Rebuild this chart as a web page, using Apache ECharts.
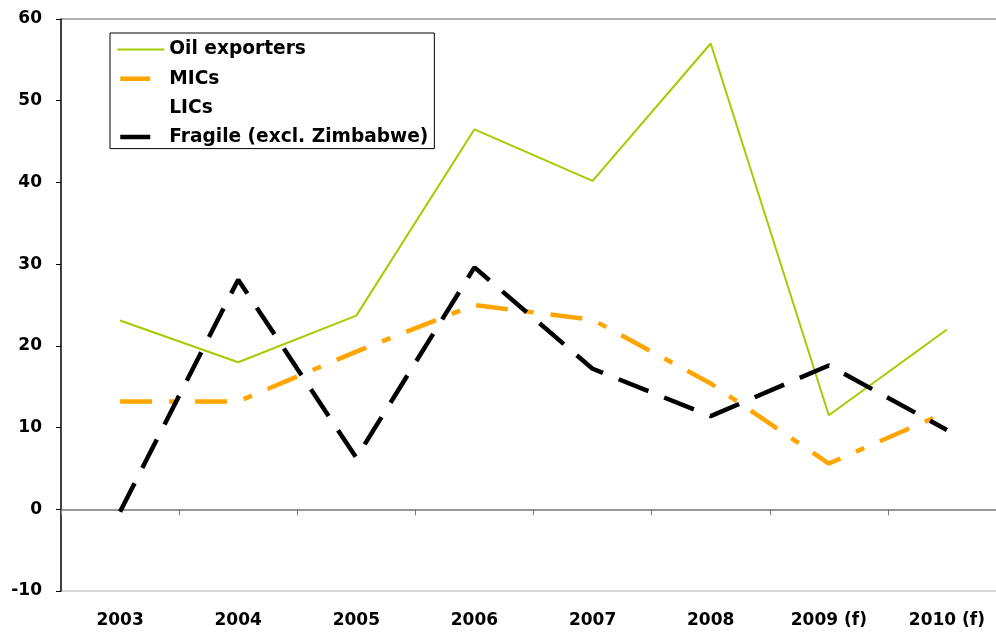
<!DOCTYPE html>
<html>
<head>
<meta charset="utf-8">
<script src="https://cdn.jsdelivr.net/npm/echarts@6/dist/echarts.min.js"></script>
<style>
  html, body { margin: 0; padding: 0; background: #fff; }
  #main { width: 996px; height: 637px; }
</style>
</head>
<body>
<div id="main"></div>
<script>
// categories and series values
var years = ['2003', '2004', '2005', '2006', '2007', '2008', '2009 (f)', '2010 (f)'];
var oilExporters = [23.1, 18.0, 23.7, 46.5, 40.2, 57.0, 11.5, 22.0];
var mics = [13.2, 13.2, 19.3, 25.0, 23.2, 15.4, 5.6, 11.9];
var lics = [];
var fragile = [-0.3, 28.1, 6.3, 29.6, 17.2, 11.4, 17.6, 9.7];

var font = 'DejaVu Sans';
var chart = echarts.init(document.getElementById('main'));

var option = {
    animation: false,
    backgroundColor: '#fff',
    grid: {
        left: 61,
        top: 19,
        bottom: 46,
        width: 945,   // plot runs past the right edge of the picture
        outerBoundsMode: 'none'
    },
    legend: {
        orient: 'vertical',
        left: 110,
        top: 33,
        padding: [7, 6, 2, 5],
        borderColor: '#000',
        borderWidth: 1,
        itemWidth: 47,
        itemHeight: 14,
        itemGap: 10.2,
        itemStyle: { opacity: 0 },   // no symbol in the legend, line only
        textStyle: {
            fontFamily: font,
            fontWeight: 'bold',
            fontSize: 18.6,
            color: '#000'
        },
        data: [
            { name: 'Oil exporters', lineStyle: { type: 'solid', width: 2 } },
            // short dash, inset a little like the original
            { name: 'MICs', lineStyle: { type: [0.01, 3, 30, 100], width: 4.5 } },
            { name: 'LICs' },
            { name: 'Fragile (excl. Zimbabwe)', lineStyle: { type: [0.01, 3, 30, 100], width: 4.5 } }
        ]
    },
    xAxis: [
        {
            // the axis line sitting at zero, with its ticks
            type: 'category',
            data: years,
            boundaryGap: true,
            axisLine: { onZero: true, lineStyle: { color: '#777', width: 1.5 } },
            axisTick: { show: true, length: 6, lineStyle: { color: '#777' } },
            axisLabel: { show: false },
            splitLine: { show: false }
        },
        {
            // labels below the plot
            type: 'category',
            data: years,
            position: 'bottom',
            boundaryGap: true,
            axisLine: { show: false, onZero: false },
            axisTick: { show: false },
            axisLabel: {
                margin: 21,
                fontFamily: font,
                fontWeight: 'bold',
                fontSize: 17,
                color: '#000'
            },
            splitLine: { show: false }
        }
    ],
    yAxis: {
        type: 'value',
        min: -10,
        max: 60,
        interval: 10,
        axisLine: { show: true, lineStyle: { color: '#000', width: 1.5 } },
        axisTick: { show: true, length: 5, lineStyle: { color: '#000' } },
        axisLabel: {
            margin: 19,
            fontFamily: font,
            fontWeight: 'bold',
            fontSize: 17,
            color: '#000'
        },
        splitLine: {
            show: true,
            lineStyle: {
                // only the -10 and 60 lines are drawn
                color: ['#ccc', 'rgba(0,0,0,0)', 'rgba(0,0,0,0)', 'rgba(0,0,0,0)',
                        'rgba(0,0,0,0)', 'rgba(0,0,0,0)', 'rgba(0,0,0,0)', '#999'],
                width: 1.5
            }
        }
    },
    series: [
        {
            name: 'Oil exporters',
            type: 'line',
            data: oilExporters,
            symbol: 'none',
            color: '#a4cc00',
            lineStyle: { color: '#a4cc00', width: 2 },
            z: 3
        },
        {
            name: 'MICs',
            type: 'line',
            data: mics,
            symbol: 'none',
            color: '#ffa500',
            lineStyle: { color: '#ffa500', width: 4.5, type: [32, 17, 9, 17], cap: 'butt' },
            z: 2
        },
        {
            name: 'LICs',
            type: 'line',
            data: lics,
            symbol: 'none',
            color: 'rgba(255,255,255,0)',
            lineStyle: { color: 'rgba(255,255,255,0)', width: 2 }
        },
        {
            name: 'Fragile (excl. Zimbabwe)',
            type: 'line',
            data: fragile,
            symbol: 'none',
            color: '#000',
            lineStyle: { color: '#000', width: 4.5, type: [32, 17], cap: 'butt' },
            z: 4
        }
    ]
};

chart.setOption(option);

window.onresize = function () {
    chart.resize();
};
</script>
</body>
</html>
